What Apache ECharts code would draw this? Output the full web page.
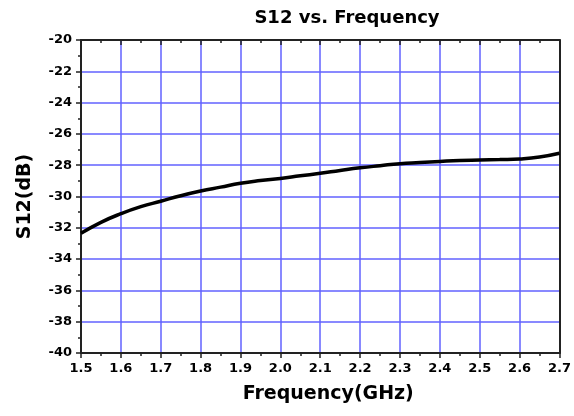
<!DOCTYPE html>
<html>
<head>
<meta charset="utf-8">
<script src="https://cdn.jsdelivr.net/npm/echarts@6/dist/echarts.min.js"></script>
<style>
  html, body { margin: 0; padding: 0; background: #fff; }
  #chart { width: 574px; height: 416px; }
</style>
</head>
<body>
<div id="chart"></div>
<script>
// frequency (GHz) and S12 (dB)
const freq = [1.5, 1.55, 1.6, 1.65, 1.7, 1.75, 1.8, 1.85, 1.9, 1.95, 2.0, 2.05, 2.1,
              2.15, 2.2, 2.25, 2.3, 2.35, 2.4, 2.45, 2.5, 2.55, 2.6, 2.65, 2.7];
const s12 = [-32.35, -31.65, -31.1, -30.65, -30.3, -29.95, -29.65, -29.4, -29.15, -28.98,
             -28.85, -28.68, -28.52, -28.34, -28.17, -28.03, -27.9, -27.83, -27.76, -27.7,
             -27.67, -27.64, -27.6, -27.48, -27.24];

const chart = echarts.init(document.getElementById('chart'));

const font = 'DejaVu Sans, sans-serif';
const gridLine = {show: true, lineStyle: {color: '#6262ff', width: 1.5}};
const axisLine = {show: true, lineStyle: {color: '#222', width: 2}};
const tickStyle = {color: '#222', width: 1.5};

chart.setOption({
    animation: false,
    title: {
        text: 'S12 vs. Frequency',
        left: 342, top: 4, textAlign: 'center',
        textStyle: {fontFamily: font, fontSize: 18, fontWeight: 'bold', color: '#000'}
    },
    grid: {left: 81, right: 13, top: 40, bottom: 63},
    xAxis: [{
        type: 'value', min: 1.5, max: 2.7, interval: 0.1,
        name: 'Frequency(GHz)', nameLocation: 'middle', nameGap: 32,
        nameTextStyle: {fontFamily: font, fontSize: 19, fontWeight: 'bold', color: '#000', padding: [0, 0, 0, 16]},
        axisLine: axisLine,
        axisTick: {show: true, inside: false, length: 5, lineStyle: tickStyle},
        minorTick: {show: true, splitNumber: 2, length: 3, lineStyle: tickStyle},
        axisLabel: {fontFamily: font, fontSize: 13, fontWeight: 'bold', color: '#000', margin: 9,
            formatter: v => v.toFixed(1)},
        splitLine: gridLine
    }, {
        type: 'value', position: 'top', min: 1.5, max: 2.7, interval: 0.1,
        axisLine: axisLine,
        axisTick: {show: true, inside: true, length: 5, lineStyle: tickStyle},
        minorTick: {show: true, splitNumber: 2, length: 3, lineStyle: tickStyle},
        axisLabel: {show: false},
        splitLine: {show: false}
    }],
    yAxis: [{
        type: 'value', min: -40, max: -20, interval: 2,
        name: 'S12(dB)', nameLocation: 'middle', nameGap: 46, nameRotate: 90,
        nameTextStyle: {fontFamily: font, fontSize: 19, fontWeight: 'bold', color: '#000'},
        axisLine: axisLine,
        axisTick: {show: true, inside: false, length: 5, lineStyle: tickStyle},
        minorTick: {show: true, splitNumber: 2, length: 3, lineStyle: tickStyle},
        axisLabel: {fontFamily: font, fontSize: 13, fontWeight: 'bold', color: '#000', margin: 9},
        splitLine: gridLine
    }, {
        type: 'value', position: 'right', min: -40, max: -20, interval: 2,
        axisLine: axisLine,
        axisTick: {show: false},
        axisLabel: {show: false},
        splitLine: {show: false}
    }],
    series: [{
        type: 'line',
        data: freq.map((f, i) => [f, s12[i]]),
        smooth: true,
        showSymbol: false,
        lineStyle: {color: '#000', width: 3.5}
    }]
});
</script>
</body>
</html>
